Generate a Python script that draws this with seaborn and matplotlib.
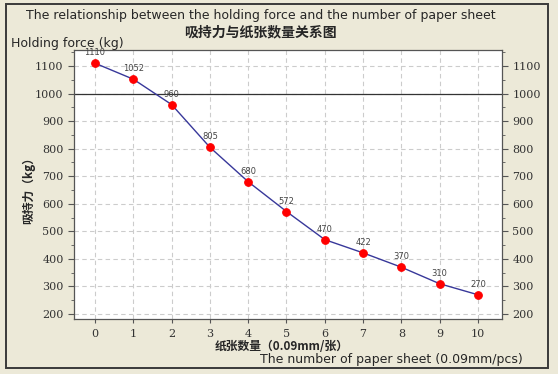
import matplotlib
matplotlib.use("Agg")
import matplotlib.pyplot as plt
from matplotlib.patches import Rectangle
from matplotlib.ticker import MultipleLocator
import seaborn as sns
import pandas as pd

sns.set_style("white")
plt.rcParams['font.family'] = ['DejaVu Sans', 'Noto Sans CJK SC']

# data
sheets = [0, 1, 2, 3, 4, 5, 6, 7, 8, 9, 10]
force = [1110, 1052, 960, 805, 680, 572, 470, 422, 370, 310, 270]

title_en = "The relationship between the holding force and the number of paper sheet"
title_cn = "吸持力与纸张数量关系图"
ylabel_en = "Holding force (kg)"
ylabel_cn = "吸持力（kg）"
xlabel_cn = "纸张数量（0.09mm/张）"
xlabel_en = "The number of paper sheet (0.09mm/pcs)"

df = pd.DataFrame({"sheets": sheets, "force": force})

bg = "#ECE9D8"
fig = plt.figure(figsize=(5.58, 3.74), dpi=100, facecolor=bg)
ax = fig.add_axes([74 / 558, 1 - 319 / 374, 428 / 558, 269 / 374])
ax.set_facecolor("white")

# grid dashed, the 1000 line solid
ax.set_xticks(sheets)
ax.yaxis.set_major_locator(MultipleLocator(100))
ax.yaxis.set_minor_locator(MultipleLocator(50))
ax.grid(True, which="major", color="#CCCCCC", linestyle=(0, (4, 3)), linewidth=0.8)
ax.axhline(1000, color="#333333", linewidth=0.9, zorder=2)

sns.lineplot(data=df, x="sheets", y="force", ax=ax, color="#38389A",
             linewidth=1.0, marker="o", markersize=5.5, markerfacecolor="#FF0000",
             markeredgecolor="#FF0000", zorder=3)

for x, y in zip(sheets, force):
    ax.annotate(str(y), (x, y), xytext=(0, 7.5), textcoords="offset points",
                ha="center", va="center", fontsize=6, color="#444444")

ax.set_xlim(-0.55, 10.63)
ax.set_ylim(182, 1158)
ax.set_xlabel("")
ax.set_ylabel("")

for s in ax.spines.values():
    s.set_color("#555555")
    s.set_linewidth(0.9)

ax.tick_params(axis="y", which="both", left=True, right=True, labelleft=True,
               labelright=True, direction="out", color="#555555")
ax.tick_params(axis="y", which="major", length=4)
ax.tick_params(axis="y", which="minor", length=2.5)
ax.tick_params(axis="x", which="major", bottom=True, direction="out", length=3,
               color="#555555", pad=4)
for lab in ax.get_xticklabels() + ax.get_yticklabels():
    lab.set_fontfamily("DejaVu Serif")
    lab.set_fontsize(8)
    lab.set_color("#333333")
ax.yaxis.set_tick_params(labelsize=8, labelcolor="#333333")

# text around the chart
fig.text(261 / 558, 1 - 15 / 374, title_en, ha="center", va="center", fontsize=9)
fig.text(260 / 558, 1 - 32 / 374, title_cn, ha="center", va="center", fontsize=10,
         fontweight="bold", family=["Noto Sans CJK SC", "DejaVu Sans"])
fig.text(11 / 558, 1 - 43 / 374, ylabel_en, ha="left", va="center", fontsize=9)
fig.text(29 / 558, 1 - 187 / 374, ylabel_cn, ha="center", va="center", fontsize=8.5,
         fontweight="bold", rotation=90, family=["Noto Sans CJK SC", "DejaVu Sans"])
fig.text(282 / 558, 1 - 347 / 374, xlabel_cn, ha="center", va="center", fontsize=8.5,
         fontweight="bold", family=["Noto Sans CJK SC", "DejaVu Sans"])
fig.text(391 / 558, 1 - 360 / 374, xlabel_en, ha="center", va="center", fontsize=9)

# outer frame
fig.patches.append(Rectangle((6 / 558, 1 - 368 / 374), 542 / 558, 364 / 374,
                             transform=fig.transFigure, fill=False,
                             edgecolor="#3A3A3A", linewidth=1.4))

fig.savefig("out.png", dpi=100, facecolor=bg)
